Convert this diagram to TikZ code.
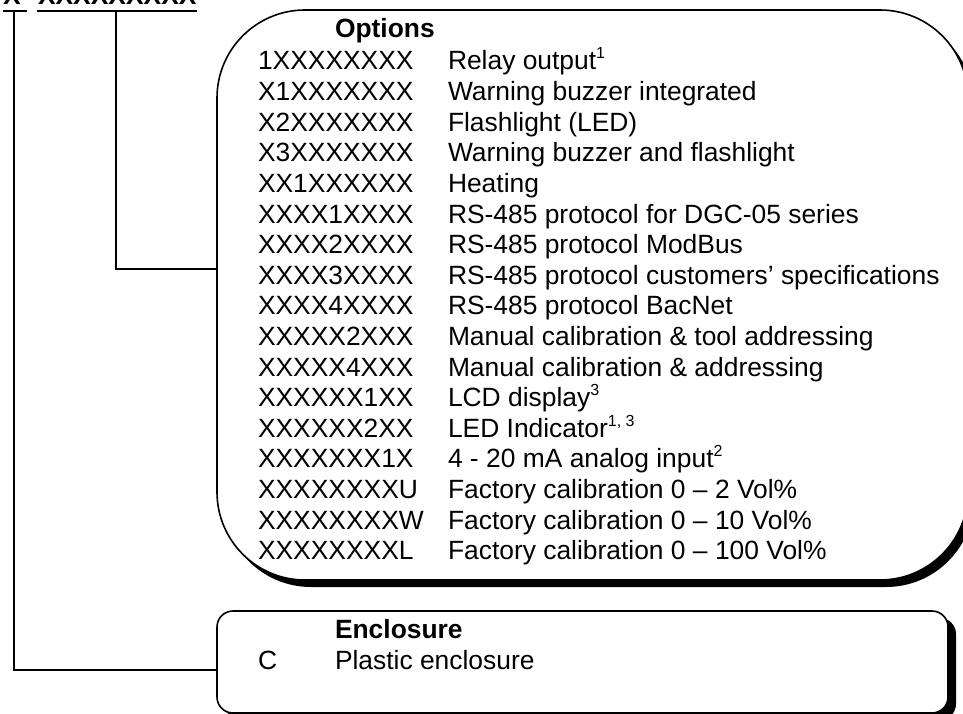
\documentclass[tikz,border=0pt]{standalone}
\usepackage{fontspec}
\setmainfont{Liberation Sans}
\usetikzlibrary{shadows}
\newcommand{\fnmark}[1]{\raisebox{0.42em}{\fontsize{16}{16}\selectfont #1}}
\begin{document}
\begin{tikzpicture}[x=1pt,y=-1pt,
  txt/.style={inner sep=0pt, outer sep=0pt, anchor=base west, font=\fontsize{26.4}{31}\selectfont},
  boldtxt/.style={txt, font=\fontsize{26.4}{31}\selectfont\bfseries},
  conn/.style={line width=1.4pt},
  optbox/.style={draw, fill=white, line width=1.6pt, rounded corners=88pt,
    drop shadow={shadow xshift=6pt, shadow yshift=-7pt, opacity=1, fill=black}},
  encbox/.style={draw, fill=white, line width=1.6pt, rounded corners=16pt,
    drop shadow={shadow xshift=8pt, shadow yshift=-7pt, opacity=1, fill=black}}]
\useasboundingbox (0,0) rectangle (963,714);
\clip (0,0) rectangle (963,714);

% header code
\node[boldtxt] (tX) at (3,5) {X};
\node[boldtxt] (tXs) at (38,5) {XXXXXXXXX};
\draw[conn] (3,11) -- (27,11);
\draw[conn] (37,11) -- (197,11);
\coordinate (u1) at (14,11);
\coordinate (u2) at (116,11);

% boxes
\node[optbox, minimum width=751pt, minimum height=570pt] (opt) at (592.5,295) {};
\node[encbox, minimum width=731pt, minimum height=102pt] (enc) at (582.5,662) {};

\coordinate (optin) at (opt.west |- 0,269);
\coordinate (encin) at (enc.west |- 0,670);
\draw[conn] (u2) |- (optin);
\draw[conn] (u1) |- (encin);

% options text
\node[boldtxt] (opth) at (335,38) {Options};
\foreach \c/\d [count=\i] in {
  1XXXXXXXX/{Relay output\fnmark{1}},
  X1XXXXXXX/{Warning buzzer integrated},
  X2XXXXXXX/{Flashlight (LED)},
  X3XXXXXXX/{Warning buzzer and flashlight},
  XX1XXXXXX/{Heating},
  XXXX1XXXX/{RS-485 protocol for DGC-05 series},
  XXXX2XXXX/{RS-485 protocol ModBus},
  XXXX3XXXX/{RS-485 protocol customers’ specifications},
  XXXX4XXXX/{RS-485 protocol BacNet},
  XXXXX2XXX/{Manual calibration \& tool addressing},
  XXXXX4XXX/{Manual calibration \& addressing},
  XXXXXX1XX/{LCD display\fnmark{3}},
  XXXXXX2XX/{LED Indicator\fnmark{1, 3}},
  XXXXXXX1X/{4 - 20 mA analog input\fnmark{2}},
  XXXXXXXXU/{Factory calibration 0 – 2 Vol\%},
  XXXXXXXXW/{Factory calibration 0 – 10 Vol\%},
  XXXXXXXXL/{Factory calibration 0 – 100 Vol\%}}{
  \node[txt] (c\i) at (258,{70+(\i-1)*30.6}) {\c};
  \node[txt] (d\i) at (448,{70+(\i-1)*30.6}) {\d};
}

% enclosure text
\node[boldtxt] (ench) at (335,638) {Enclosure};
\node[txt] (ec) at (258,669) {C};
\node[txt] (ed) at (335,669) {Plastic enclosure};
\end{tikzpicture}
\end{document}
